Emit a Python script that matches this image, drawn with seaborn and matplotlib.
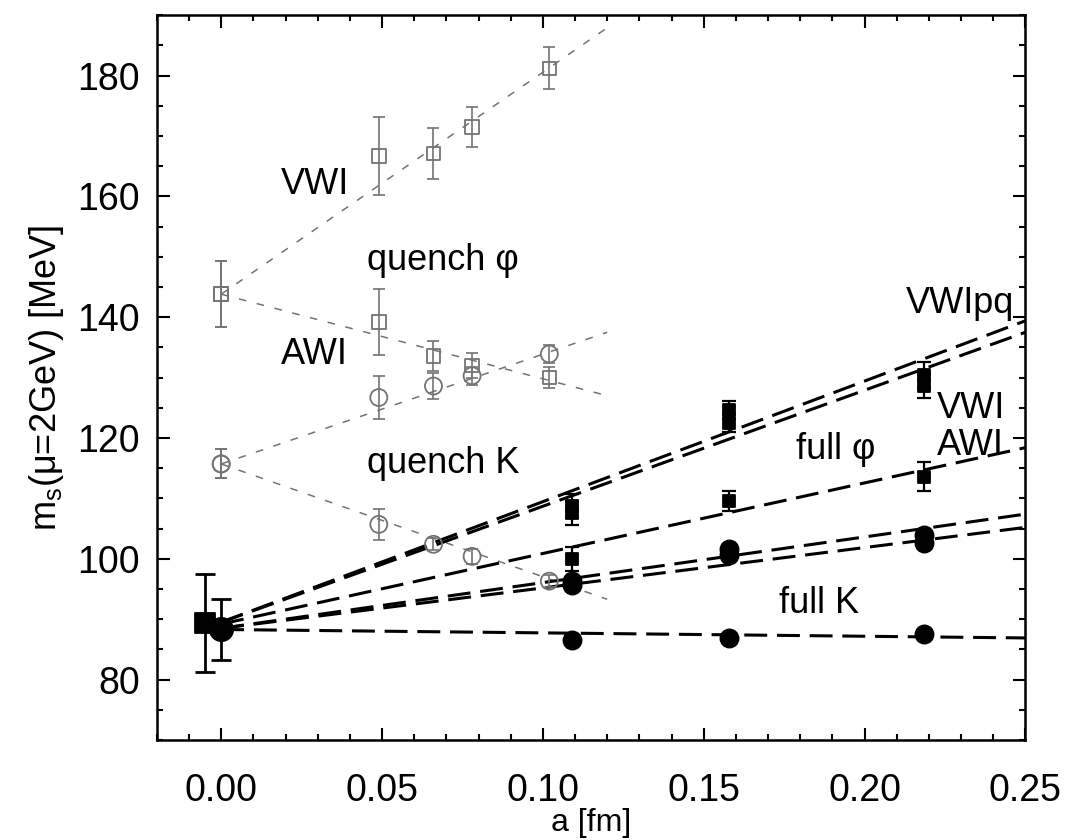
import matplotlib
matplotlib.use("Agg")
import matplotlib.pyplot as plt
import seaborn as sns
import pandas as pd
import numpy as np
from matplotlib.ticker import MultipleLocator

# ---------------- data ----------------
quench_a = [0.0, 0.049, 0.066, 0.078, 0.102]
q_vwi_phi = [143.8, 166.7, 167.1, 171.5, 181.2]
q_vwi_phi_err = [5.5, 6.5, 4.2, 3.3, 3.5]
q_awi_phi = [143.8, 139.2, 133.6, 132.0, 130.0]
q_awi_phi_err = [5.5, 5.4, 2.5, 2.0, 1.8]
q_vwi_K = [115.7, 126.7, 128.6, 130.3, 133.9]
q_vwi_K_err = [2.4, 3.6, 2.2, 1.5, 1.5]
q_awi_K = [115.7, 105.7, 102.4, 100.4, 96.3]
q_awi_K_err = [2.4, 2.6, 1.0, 1.2, 1.0]

full_a = [0.109, 0.158, 0.2185]
f_vwipq_phi = [108.8, 124.6, 130.4]
f_vwipq_phi_err = [2.0, 1.5, 2.2]
f_vwi_phi = [107.6, 122.5, 128.6]
f_vwi_phi_err = [2.0, 1.5, 2.0]
f_awi_phi = [99.9, 109.6, 113.6]
f_awi_phi_err = [2.0, 1.7, 2.4]
f_vwipq_K = [96.3, 101.6, 104.0]
f_vwi_K = [95.6, 100.7, 102.6]
f_awi_K = [86.6, 86.9, 87.6]

# continuum / chiral values
cont_phi_a, cont_phi_m, cont_phi_err = [-0.005], [89.4], [8.1]
cont_K_a, cont_K_m, cont_K_err = [0.0], [88.3], [5.0]

# fit line end points (a, m)
q_fit_a = [0.0, 0.12]
q_fit_vwi_phi = [143.8, 187.9]
q_fit_awi_phi = [143.8, 127.0]
q_fit_vwi_K = [115.7, 137.5]
q_fit_awi_K = [115.7, 93.3]

f_fit_a = [0.0, 0.25]
f_fit_vwipq_phi = [89.5, 139.4]
f_fit_vwi_phi = [89.5, 137.5]
f_fit_awi_phi = [89.2, 118.4]
f_fit_vwipq_K = [88.5, 107.4]
f_fit_vwi_K = [88.5, 105.2]
f_fit_awi_K = [88.3, 86.9]

labels = [
    ("VWI", 0.029, 162.0, "center"),
    ("quench φ", 0.069, 149.3, "center"),
    ("AWI", 0.029, 133.9, "center"),
    ("quench K", 0.069, 115.7, "center"),
    ("VWIpq", 0.2465, 142.2, "right"),
    ("VWI", 0.2225, 124.8, "left"),
    ("AWI", 0.2225, 118.7, "left"),
    ("full φ", 0.191, 118.1, "center"),
    ("full K", 0.186, 92.6, "center"),
]

# ---------------- style ----------------
sns.set_style("ticks")
plt.rcParams['font.family'] = ['Liberation Sans', 'DejaVu Sans']
plt.rcParams['mathtext.fontset'] = 'custom'
plt.rcParams['mathtext.rm'] = 'Liberation Sans'
plt.rcParams['mathtext.it'] = 'Liberation Sans:italic'

fig = plt.figure(figsize=(10.67, 8.4), dpi=100)
ax = fig.add_axes([0.147, 0.119, 0.814, 0.863])

QC = '0.45'   # quenched grey
QDASH = (0, (5, 7))
FDASH = (0, (7.5, 3.2))

def fit_line(xs, ys, color, lw, ls):
    d = pd.DataFrame({"a": xs, "m": ys})
    sns.lineplot(data=d, x="a", y="m", ax=ax, color=color, lw=lw,
                 linestyle=ls, estimator=None, sort=False, legend=False)

for ys in [q_fit_vwi_phi, q_fit_awi_phi, q_fit_vwi_K, q_fit_awi_K]:
    fit_line(q_fit_a, ys, QC, 1.1, QDASH)
for ys in [f_fit_vwipq_phi, f_fit_vwi_phi, f_fit_awi_phi,
           f_fit_vwipq_K, f_fit_vwi_K, f_fit_awi_K]:
    fit_line(f_fit_a, ys, 'black', 2.2, FDASH)

def points(xs, ys, errs, marker, size, face, edge, elw, ecolor, capsize, z):
    d = pd.DataFrame({"a": xs, "m": ys})
    if errs is not None:
        ax.errorbar(xs, ys, yerr=errs, fmt='none', ecolor=ecolor,
                    elinewidth=elw, capsize=capsize, capthick=elw, zorder=z)
    sns.scatterplot(data=d, x="a", y="m", ax=ax, marker=marker, s=size,
                    facecolor=face, edgecolor=edge, linewidth=1.3,
                    zorder=z + 1, legend=False)

points(quench_a, q_vwi_phi, q_vwi_phi_err, 's', 95, 'none', QC, 1.2, QC, 4, 3)
points(quench_a, q_awi_phi, q_awi_phi_err, 's', 95, 'none', QC, 1.2, QC, 4, 3)
points(quench_a, q_vwi_K, q_vwi_K_err, 'o', 150, 'none', QC, 1.2, QC, 4, 3)
points(quench_a, q_awi_K, q_awi_K_err, 'o', 150, 'none', QC, 1.2, QC, 4, 3)

points(full_a, f_vwipq_phi, f_vwipq_phi_err, 's', 80, 'black', 'black', 1.6, 'black', 5, 5)
points(full_a, f_vwi_phi, f_vwi_phi_err, 's', 80, 'black', 'black', 1.6, 'black', 5, 5)
points(full_a, f_awi_phi, f_awi_phi_err, 's', 80, 'black', 'black', 1.6, 'black', 5, 5)
points(full_a, f_vwipq_K, None, 'o', 170, 'black', 'black', 1.6, 'black', 5, 5)
points(full_a, f_vwi_K, None, 'o', 170, 'black', 'black', 1.6, 'black', 5, 5)
points(full_a, f_awi_K, None, 'o', 170, 'black', 'black', 1.6, 'black', 5, 5)

points(cont_phi_a, cont_phi_m, cont_phi_err, 's', 220, 'black', 'black', 2.0, 'black', 7, 6)
points(cont_K_a, cont_K_m, cont_K_err, 'o', 280, 'black', 'black', 2.0, 'black', 7, 6)

for txt, x, y, ha in labels:
    ax.text(x, y, txt, ha=ha, va='center', fontsize=26, color='black', zorder=8)

ax.set_xlim(-0.02, 0.25)
ax.set_ylim(70, 190)
ax.xaxis.set_minor_locator(MultipleLocator(0.01))
ax.yaxis.set_minor_locator(MultipleLocator(5))
ax.set_xticks([0.0, 0.05, 0.10, 0.15, 0.20, 0.25])
ax.set_xticklabels(["0.00", "0.05", "0.10", "0.15", "0.20", "0.25"])
ax.set_yticks([80, 100, 120, 140, 160, 180])
ax.set_yticklabels(["80", "100", "120", "140", "160", "180"])
ax.tick_params(which='both', direction='in', top=True, right=True,
               labelsize=27, width=1.5, colors='black')
ax.tick_params(axis='x', which='major', length=9, pad=24)
ax.tick_params(axis='y', which='major', length=9, pad=12)
ax.tick_params(which='minor', length=4.5)
for sp in ax.spines.values():
    sp.set_linewidth(1.8)
    sp.set_color('black')

ax.set_xlabel("a [fm]", fontsize=23, color='black')
ax.xaxis.set_label_coords(0.5, -0.094)
ax.set_ylabel(r"m$_\mathrm{s}$(μ=2GeV) [MeV]", fontsize=26, labelpad=8, color='black')

fig.savefig("out.png", dpi=100)
